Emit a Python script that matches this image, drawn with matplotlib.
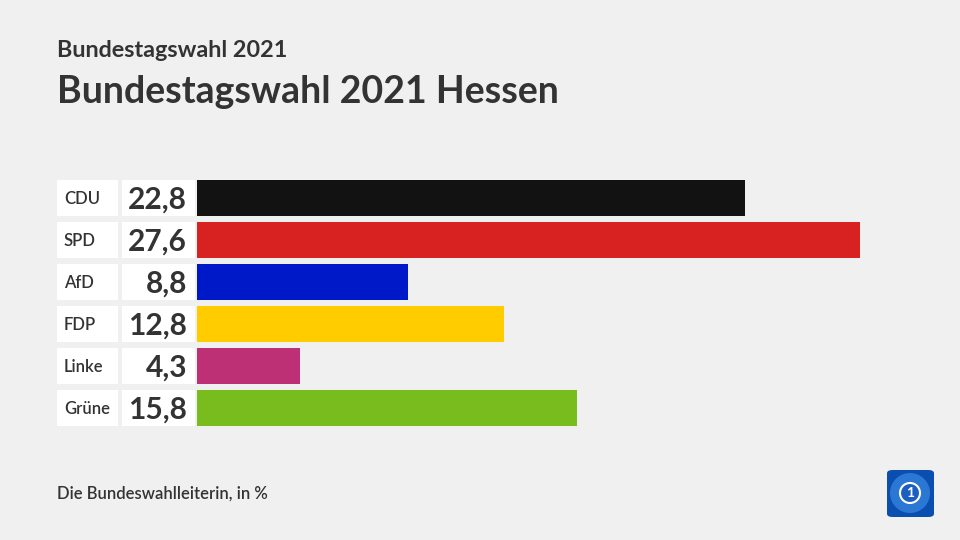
import matplotlib.pyplot as plt
import matplotlib.transforms as mtransforms
from matplotlib.patches import Rectangle, FancyBboxPatch, Ellipse

parties = ["CDU", "SPD", "AfD", "FDP", "Linke", "Grüne"]
values = [22.8, 27.6, 8.8, 12.8, 4.3, 15.8]
colors = ["#121212", "#d82121", "#0019c8", "#ffcc00", "#be3075", "#78bc1d"]

bg = "#f0f0f0"
txt = "#333333"
plt.rcParams['font.family'] = ['Lato', 'DejaVu Sans']

fig = plt.figure(figsize=(9.6, 5.4), dpi=100)
fig.patch.set_facecolor(bg)

W, H = 960, 540
# bar area: x from 197 px (value 0) to 860 px (max value), rows from 180 to 426 px
ax = fig.add_axes([197 / W, 1 - 426 / H, (860 - 197) / W, 246 / H])
ax.set_facecolor(bg)
bar_h = 36 / 42
ypos = list(range(len(parties)))
ax.barh(ypos, values, height=bar_h, color=colors, edgecolor="none")
ax.set_xlim(0, max(values))
ax.set_ylim(len(parties) - 1 + bar_h / 2, -bar_h / 2)
ax.axis("off")

trans = mtransforms.blended_transform_factory(fig.transFigure, ax.transData)
for y, name, v in zip(ypos, parties, values):
    ax.add_patch(Rectangle((57 / W, y - bar_h / 2), 61 / W, bar_h, transform=trans,
                           facecolor="white", edgecolor="none", clip_on=False))
    ax.add_patch(Rectangle((122 / W, y - bar_h / 2), 73 / W, bar_h, transform=trans,
                           facecolor="white", edgecolor="none", clip_on=False))
    ax.text(64 / W, y + 0.03, name, transform=trans, ha="left", va="center",
            fontsize=12, fontweight="semibold", color=txt)
    ax.text(187 / W, y + 0.03, f"{v:.1f}".replace(".", ","), transform=trans,
            ha="right", va="center", fontsize=21.5, fontweight="bold", color=txt)

fig.text(57 / W, 1 - 57 / H, "Bundestagswahl 2021", fontsize=16.8, fontweight="bold",
         color=txt, ha="left", va="baseline")
fig.text(57 / W, 1 - 103 / H, "Bundestagswahl 2021 Hessen", fontsize=27, fontweight="bold",
         color=txt, ha="left", va="baseline")
fig.text(57 / W, 1 - 499 / H, "Die Bundeswahlleiterin, in %", fontsize=12,
         fontweight="semibold", color=txt, ha="left", va="baseline")

# logo
fig.patches.append(FancyBboxPatch((887 / W, 1 - 517 / H), 47 / W, 47 / H,
                                  boxstyle="round,pad=0,rounding_size=0.006",
                                  transform=fig.transFigure, facecolor="#0a4fb0",
                                  edgecolor="none"))
fig.patches.append(Ellipse((910 / W, 1 - 493 / H), 40 / W, 40 / H, transform=fig.transFigure,
                           facecolor="#2a78d4", edgecolor="none"))
fig.patches.append(Ellipse((910 / W, 1 - 493 / H), 20 / W, 20 / H, transform=fig.transFigure,
                           facecolor="#1d5fc0", edgecolor="white", linewidth=1.5))
fig.text(910 / W, 1 - 493 / H, "1", fontsize=10, fontweight="bold", color="white",
         ha="center", va="center")

fig.savefig("out.png", dpi=100, facecolor=bg)
